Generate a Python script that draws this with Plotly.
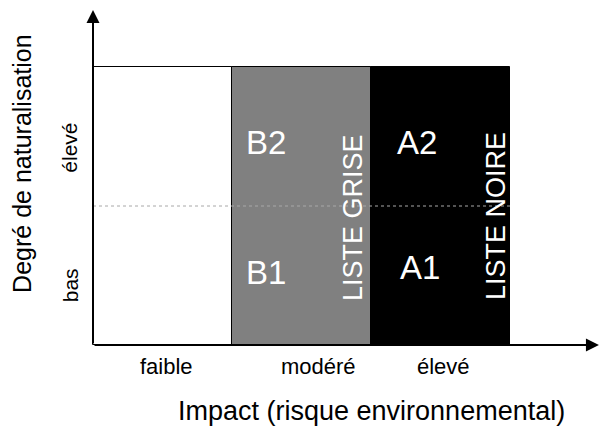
import plotly.graph_objects as go

# Data
impact_categories = ["faible", "modéré", "élevé"]
impact_positions = [0.5, 1.5, 2.5]
box_heights = [2, 2, 2]
box_colors = ["#ffffff", "#808080", "#000000"]
naturalisation_levels = ["bas", "élevé"]
level_positions = [0.43, 1.42]
cell_labels = ["B2", "B1", "A2", "A1"]
cell_x = [1.245, 1.245, 2.33, 2.35]
cell_y = [1.46, 0.525, 1.46, 0.554]
list_labels = ["LISTE GRISE", "LISTE NOIRE"]
list_x = [1.871, 2.90]
list_y = [0.914, 0.928]
threshold = 1.0

FONT = "Liberation Sans, Arial, sans-serif"

fig = go.Figure()
fig.add_trace(go.Bar(
    x=impact_positions, y=box_heights, width=1, base=0,
    marker=dict(color=box_colors, line=dict(color="#000000", width=1)),
    hoverinfo="skip", showlegend=False,
))

fig.add_shape(type="line", x0=0, x1=3, y0=threshold, y1=threshold,
              line=dict(color="#a8a8a8", width=1, dash="dot"), layer="above")

ann = []
# axis arrows
ann.append(dict(x=0, y=2.41, ax=0, ay=0, xref="x", yref="y", axref="x", ayref="y",
                text="", showarrow=True, arrowhead=2, arrowsize=1.3, arrowwidth=2, arrowcolor="#000"))
ann.append(dict(x=3.64, y=0, ax=0, ay=0, xref="x", yref="y", axref="x", ayref="y",
                text="", showarrow=True, arrowhead=2, arrowsize=1.3, arrowwidth=2, arrowcolor="#000"))

for t, x, y in zip(cell_labels, cell_x, cell_y):
    ann.append(dict(x=x, y=y, text=t, showarrow=False, font=dict(family=FONT, size=33, color="#ffffff")))
for t, x, y in zip(list_labels, list_x, list_y):
    ann.append(dict(x=x, y=y, text=t, showarrow=False, textangle=-90,
                    font=dict(family=FONT, size=27, color="#ffffff")))
cat_x = [0.532, 1.619, 2.525]
for t, x in zip(impact_categories, cat_x):
    ann.append(dict(x=x, y=-0.158, text=t, showarrow=False, font=dict(family=FONT, size=22, color="#000")))
for t, y in zip(naturalisation_levels, level_positions):
    ann.append(dict(x=-0.165, y=y, text=t, showarrow=False, textangle=-90,
                    font=dict(family=FONT, size=21, color="#000")))
ann.append(dict(x=2.007, y=-0.472, text="Impact (risque environnemental)", showarrow=False,
                font=dict(family=FONT, size=27, color="#000")))
ann.append(dict(x=-0.511, y=1.31, text="Degré de naturalisation", showarrow=False, textangle=-90,
                font=dict(family=FONT, size=25, color="#000")))

fig.update_layout(
    width=600, height=427,
    margin=dict(l=0, r=0, t=0, b=0),
    paper_bgcolor="#ffffff", plot_bgcolor="#ffffff",
    xaxis=dict(range=[-93/139, 507/139], visible=False, fixedrange=True),
    yaxis=dict(range=[-82/139, 345/139], visible=False, fixedrange=True),
    annotations=ann,
    bargap=0,
)

fig.write_html("out.html", post_script="document.body.style.margin='0';",
               config={"displayModeBar": False})
